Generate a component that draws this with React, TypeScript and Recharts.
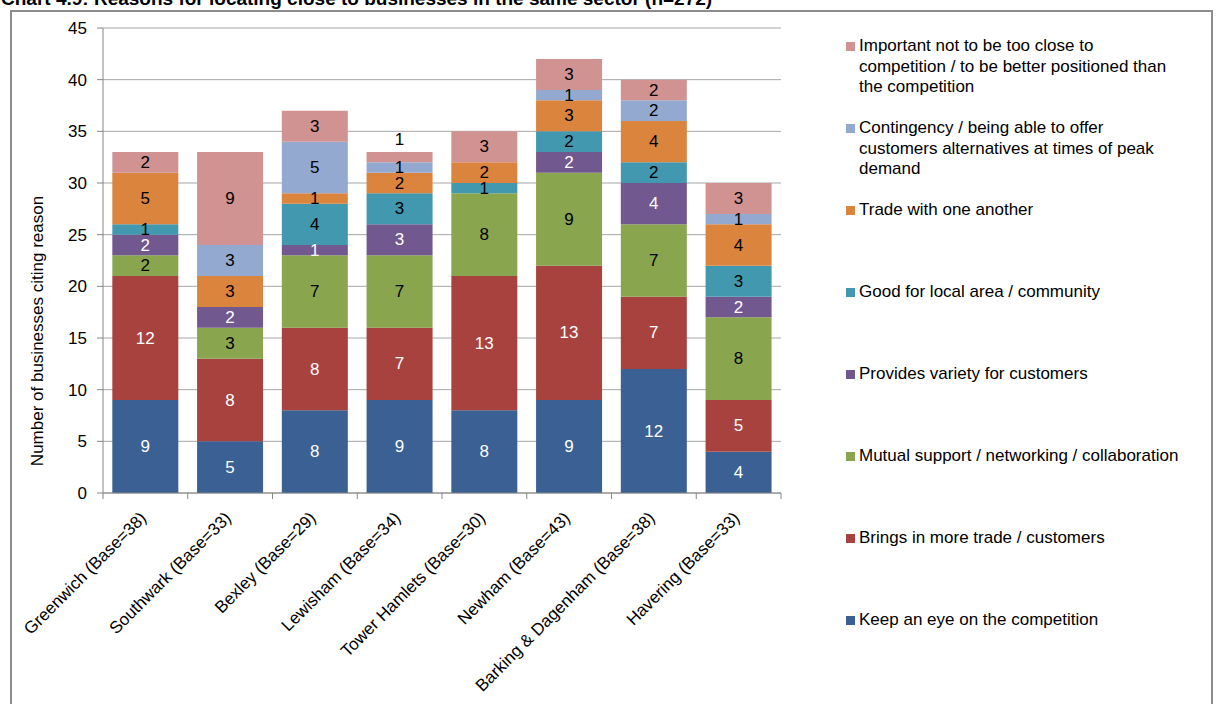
import React from 'react'
import {
  BarChart,
  Bar,
  XAxis,
  YAxis,
  CartesianGrid,
  LabelList,
  Label,
} from 'recharts'

const BOROUGHS = [
  'Greenwich (Base=38)',
  'Southwark (Base=33)',
  'Bexley (Base=29)',
  'Lewisham (Base=34)',
  'Tower Hamlets (Base=30)',
  'Newham (Base=43)',
  'Barking & Dagenham (Base=38)',
  'Havering (Base=33)',
]

const KEEP_EYE = [9, 5, 8, 9, 8, 9, 12, 4]
const MORE_TRADE = [12, 8, 8, 7, 13, 13, 7, 5]
const MUTUAL = [2, 3, 7, 7, 8, 9, 7, 8]
const VARIETY = [2, 2, 1, 3, 0, 2, 4, 2]
const LOCAL_AREA = [1, 0, 4, 3, 1, 2, 2, 3]
const TRADE_EACH = [5, 3, 1, 2, 2, 3, 4, 4]
const CONTINGENCY = [0, 3, 5, 1, 0, 1, 2, 1]
const NOT_TOO_CLOSE = [2, 9, 3, 1, 3, 3, 2, 3]

const Y_TICKS = [0, 5, 10, 15, 20, 25, 30, 35, 40, 45]

// bottom of the stack first
const SERIES = [
  { key: 'keepEye', name: 'Keep an eye on the competition', values: KEEP_EYE, color: '#3A6094', text: '#ffffff' },
  { key: 'moreTrade', name: 'Brings in more trade / customers', values: MORE_TRADE, color: '#A8423F', text: '#ffffff' },
  { key: 'mutual', name: 'Mutual support / networking / collaboration', values: MUTUAL, color: '#89A54E', text: '#000000' },
  { key: 'variety', name: 'Provides variety for customers', values: VARIETY, color: '#71588F', text: '#ffffff' },
  { key: 'localArea', name: 'Good for local area / community', values: LOCAL_AREA, color: '#4198AF', text: '#000000' },
  { key: 'tradeEach', name: 'Trade with one another', values: TRADE_EACH, color: '#DB843D', text: '#000000' },
  {
    key: 'contingency',
    name: 'Contingency / being able to offer customers alternatives at times of peak demand',
    values: CONTINGENCY,
    color: '#93A9CF',
    text: '#000000',
  },
  {
    key: 'notTooClose',
    name: 'Important not to be too close to competition / to be better positioned than the competition',
    values: NOT_TOO_CLOSE,
    color: '#D19392',
    text: '#000000',
  },
]

const LEGEND_LINES: Record<string, string[]> = {
  notTooClose: ['Important not to be too close to', 'competition / to be better positioned than', 'the competition'],
  contingency: ['Contingency / being able to offer', 'customers alternatives at times of peak', 'demand'],
}

const rows = BOROUGHS.map((name, i) => {
  const row: Record<string, string | number> = { name }
  SERIES.forEach((s) => {
    row[s.key] = s.values[i]
  })
  return row
})

const FONT = '"Liberation Sans", Arial, sans-serif'

function segmentLabel(color: string, isTop: boolean) {
  return (props: any) => {
    const { x, y, width, height, value } = props
    if (!value) return null
    const cx = Number(x) + Number(width) / 2
    let cy = Number(y) + Number(height) / 2
    let fill = color
    if (isTop && Number(height) < 12) {
      cy = Number(y) - 13
      fill = '#000000'
    }
    return (
      <text x={cx} y={cy} textAnchor="middle" dominantBaseline="central" fill={fill} fontSize={17} fontFamily={FONT}>
        {value}
      </text>
    )
  }
}

function BoroughTick(props: any) {
  const { x, y, payload, index, width } = props
  const band = Number(width) / BOROUGHS.length
  const axisY = Number(y) - 8
  const left = Number(x) - band / 2
  return (
    <g>
      <line x1={left} x2={left} y1={axisY} y2={axisY + 6} stroke="#868686" />
      {index === BOROUGHS.length - 1 && (
        <line x1={left + band} x2={left + band} y1={axisY} y2={axisY + 6} stroke="#868686" />
      )}
      <text
        transform={`translate(${Number(x) + 2}, ${axisY + 26}) rotate(-45)`}
        textAnchor="end"
        fontSize={17}
        fontFamily={FONT}
        fill="#000"
      >
        {payload.value}
      </text>
    </g>
  )
}

export default function App() {
  const legendItems = [...SERIES].reverse()
  return (
    <div
      style={{
        position: 'absolute',
        left: 0,
        top: 0,
        width: 1217,
        height: 704,
        overflow: 'hidden',
        background: '#fff',
        fontFamily: FONT,
      }}
    >
      <div
        style={{
          position: 'absolute',
          left: 10,
          top: 10,
          width: 1203,
          height: 720,
          border: '2px solid #8c8c8c',
          boxSizing: 'border-box',
        }}
      />
      <div
        style={{
          position: 'absolute',
          left: 1,
          top: -12,
          fontSize: 19,
          fontWeight: 'bold',
          whiteSpace: 'nowrap',
          color: '#000',
        }}
      >
        Chart 4.9: Reasons for locating close to businesses in the same sector (n=272)
      </div>

      <div style={{ position: 'absolute', left: 0, top: 0 }}>
        <BarChart
          width={1217}
          height={704}
          data={rows}
          margin={{ top: 28, right: 436, bottom: 0, left: 0 }}
          barCategoryGap="11%"
        >
          <CartesianGrid vertical={false} stroke="#a6a6a6" />
          <XAxis
            dataKey="name"
            interval={0}
            height={211}
            stroke="#868686"
            tickLine={false}
            tick={<BoroughTick />}
          />
          <YAxis
            width={103}
            domain={[0, 45]}
            ticks={Y_TICKS}
            interval={0}
            stroke="#868686"
            tickSize={6}
            tickMargin={10}
            tick={{ fill: '#000', fontSize: 17, fontFamily: FONT }}
          >
            <Label
              content={() => (
                <text
                  transform="translate(43, 331) rotate(-90)"
                  textAnchor="middle"
                  fontSize={17}
                  fontFamily={FONT}
                  fill="#000"
                >
                  Number of businesses citing reason
                </text>
              )}
            />
          </YAxis>
          {SERIES.map((s, i) => (
            <Bar key={s.key} dataKey={s.key} name={s.name} stackId="a" fill={s.color} isAnimationActive={false}>
              <LabelList dataKey={s.key} content={segmentLabel(s.text, i === SERIES.length - 1)} />
            </Bar>
          ))}
        </BarChart>
      </div>

      <div style={{ position: 'absolute', left: 846, top: 36, fontSize: 17, color: '#000' }}>
        {legendItems.map((s) => (
          <div key={s.key} style={{ position: 'relative', height: 82, lineHeight: '20.5px' }}>
            <div
              style={{
                position: 'absolute',
                left: 0,
                top: 6,
                width: 9,
                height: 9,
                background: s.color,
              }}
            />
            <div style={{ position: 'absolute', left: 13, top: 0, whiteSpace: 'nowrap' }}>
              {(LEGEND_LINES[s.key] ?? [s.name]).map((line) => (
                <div key={line}>{line}</div>
              ))}
            </div>
          </div>
        ))}
      </div>
    </div>
  )
}
